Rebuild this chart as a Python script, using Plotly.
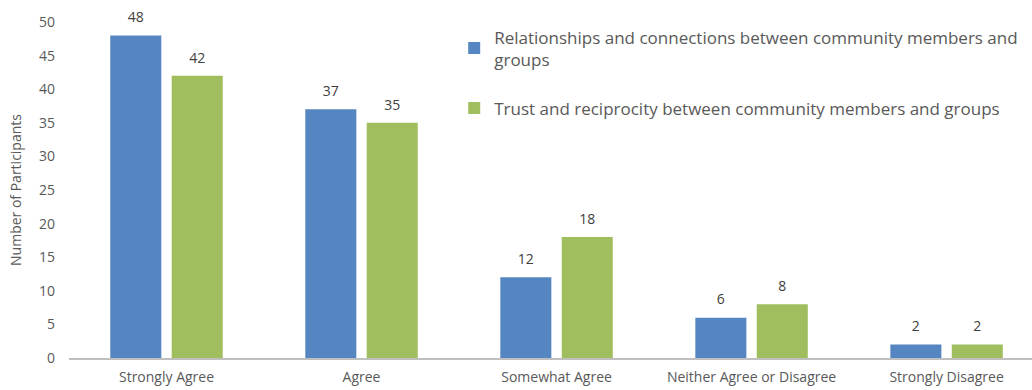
import plotly.graph_objects as go

categories = ["Strongly Agree", "Agree", "Somewhat Agree", "Neither Agree or Disagree", "Strongly Disagree"]
relationships = [48, 37, 12, 6, 2]
trust = [42, 35, 18, 8, 2]
series_names = [
    "Relationships and connections between community members and<br>groups",
    "Trust and reciprocity between community members and groups",
]
y_ticks = [0, 5, 10, 15, 20, 25, 30, 35, 40, 45, 50]

FONT = "Open Sans"
GRAY = "#595959"
BLUE = "#5586C1"
GREEN = "#A0BE5E"
BARGAP = 0.37

fig = go.Figure()
for vals, name, color, grp in [(relationships, series_names[0], BLUE, "a"),
                               (trust, series_names[1], GREEN, "b")]:
    fig.add_trace(go.Bar(
        x=categories, y=vals, name=name, legendgroup=grp,
        marker=dict(color=color, line=dict(width=0)),
    ))
for vals, grp in [(relationships, "a"), (trust, "b")]:
    fig.add_trace(go.Scatter(
        x=categories, y=vals, mode="markers+text", text=[str(v) for v in vals],
        textposition="top center", showlegend=False, legendgroup=grp,
        marker=dict(size=14, opacity=0), cliponaxis=False, hoverinfo="skip",
        textfont=dict(family=FONT, size=14, color="#404040"),
    ))

fig.update_layout(
    width=1032, height=390,
    margin=dict(l=69, r=0, t=21.5, b=32),
    paper_bgcolor="white", plot_bgcolor="white",
    barmode="group", bargap=BARGAP, bargroupgap=0.169,
    scattermode="group", scattergap=BARGAP,
    font=dict(family=FONT, color=GRAY, size=13),
    showlegend=True,
    legend=dict(
        x=0.4, y=1.008, xanchor="left", yanchor="top",
        font=dict(family=FONT, size=17, color=GRAY),
        bgcolor="rgba(0,0,0,0)", tracegroupgap=24, itemwidth=30,
    ),
    xaxis=dict(
        range=[-0.5, 4.438],
        showline=True, linecolor="#BFBFBF", linewidth=2,
        ticks="", showgrid=False, tickfont=dict(size=14, color=GRAY),
        ticklabelstandoff=5,
    ),
    yaxis=dict(
        range=[0, 50], tickvals=y_ticks, showgrid=False, zeroline=False,
        showline=False, ticks="", ticklabelstandoff=13,
        tickfont=dict(size=14, color=GRAY),
        title=dict(text="Number of Participants", font=dict(size=14, color=GRAY), standoff=14),
    ),
)

fig.write_html("out.html")
